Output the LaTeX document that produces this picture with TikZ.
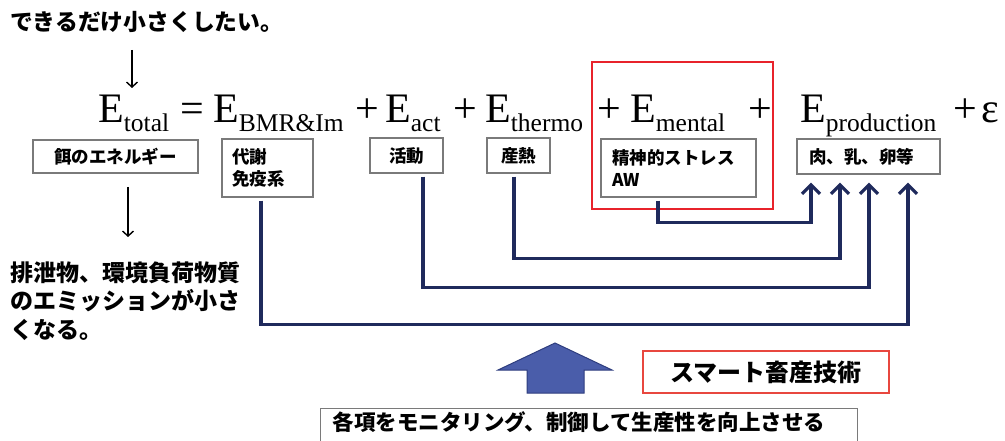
\documentclass[tikz,border=0pt]{standalone}
\usepackage{fontspec}
\setmainfont{Liberation Serif}
\newfontfamily\jp{Noto Sans CJK JP}
\usetikzlibrary{arrows.meta}
\definecolor{navy}{HTML}{1F2A5C}
\definecolor{boxgray}{HTML}{7A7A7A}
\definecolor{redline}{HTML}{E8232B}
\definecolor{redsmart}{HTML}{E8473F}
\definecolor{arrowblue}{HTML}{4A5DAA}
\definecolor{arrowedge}{HTML}{2E3D7E}
\newcommand\esub[1]{\raisebox{-9pt}{\fontsize{25.5}{25.5}\selectfont #1}}
\begin{document}
\begin{tikzpicture}[x=1pt,y=-1pt,
  term/.style={inner sep=0pt, anchor=base west, font=\fontsize{42}{42}\selectfont},
  lab/.style={draw=boxgray, line width=1.3pt, inner sep=0pt, font=\jp\bfseries\fontsize{17.5}{22}\selectfont},
  conn/.style={draw=navy, line width=3.3pt, -{Straight Barb[length=9pt,width=18pt,line width=3.2pt]}},
  thinarrow/.style={line width=1.4pt, -{Straight Barb[length=5pt,width=11pt]}},
  jptext/.style={inner sep=0pt, font=\jp\bfseries\fontsize{22}{28.5}\selectfont},
]
\useasboundingbox (0,0) rectangle (1005,441);

% top remark
\node[jptext, anchor=west, font=\jp\bfseries\fontsize{22.8}{28.5}\selectfont] (top) at (10,22) {できるだけ小さくしたい。};
\coordinate (a1s) at (132,50);
\coordinate (a1e) at (132,88);
\draw[thinarrow] (a1s) -- (a1e);

% equation
\node[term] (etot) at (98,123) {E\esub{total}};
\node[term] (eq) at (180,123) {=};
\node[term] (ebmr) at (213,123) {E\esub{BMR\&Im}};
\node[term] (p1) at (355,123) {+};
\node[term] (eact) at (385,123) {E\esub{act}};
\node[term] (p2) at (453,123) {+};
\node[term] (eth) at (485,123) {E\esub{thermo}};
\node[term] (p3) at (597,123) {+};
\node[term] (emen) at (630,123) {E\esub{mental}};
\node[term] (p4) at (748,123) {+};
\node[term] (epro) at (800,123) {E\esub{production}};
\node[term] (p5) at (953,123) {+};
\node[term] (eps) at (981,123) {ε};

% red frame round mental term
\node[draw=redline, line width=2pt, minimum width=181pt, minimum height=147pt, inner sep=0pt] (redbox) at (682.5,135.5) {};

% label boxes
\node[lab, minimum width=165pt, minimum height=33pt] (bfeed) at (115.5,156.5) {餌のエネルギー};
\node[lab, text width=71pt, inner xsep=10pt, align=left, minimum height=58pt] (bbmr) at (267.5,168) {代謝\\免疫系};
\node[lab, minimum width=73pt, minimum height=35pt] (bact) at (406.5,155.5) {活動};
\node[lab, minimum width=63pt, minimum height=35pt] (bth) at (518.5,155.5) {産熱};
\node[lab, text width=133pt, inner xsep=11pt, align=left, minimum height=58pt] (bmen) at (678.5,168) {精神的ストレス\\AW};
\node[lab, text width=119pt, inner xsep=12pt, align=left, minimum height=35pt] (bpro) at (868.5,156.5) {肉、乳、卵等};

% feed -> emission
\coordinate (a2s) at (128,187);
\coordinate (a2e) at (128,237);
\draw[thinarrow] (a2s) -- (a2e);
\node[jptext, anchor=west, align=left, font=\jp\bfseries\fontsize{23}{28.5}\selectfont] (emis) at (10,301) {排泄物、環境負荷物質\\のエミッションが小さ\\くなる。};

% connectors into production
\coordinate (tm) at ([xshift=-57.5pt,yshift=-8pt]bpro.south);
\coordinate (tt) at ([xshift=-28.5pt,yshift=-8pt]bpro.south);
\coordinate (ta) at ([xshift=0.5pt,yshift=-8pt]bpro.south);
\coordinate (tb) at ([xshift=39.5pt,yshift=-8pt]bpro.south);
\draw[conn] ([xshift=-20.5pt,yshift=-3pt]bmen.south) -- ++(0,22) -| (tm);
\draw[conn] ([xshift=-4.5pt,yshift=-3pt]bth.south) -- ++(0,82) -| (tt);
\draw[conn] ([xshift=16.5pt,yshift=-3pt]bact.south) -- ++(0,111) -| (ta);
\draw[conn] ([xshift=-6.5pt,yshift=-3pt]bbmr.south) -- ++(0,124) -| (tb);

% big blue arrow
\draw[fill=arrowblue, draw=arrowedge, line width=1pt, line join=miter]
  (527,393) -- (527,370) -- (498,370) -- (555,343) -- (612,370) -- (584,370) -- (584,393) -- cycle;

% smart livestock technology
\node[draw=redsmart, line width=1.5pt, minimum width=246pt, minimum height=42pt, inner sep=0pt,
      font=\jp\bfseries\fontsize{24}{24}\selectfont] (smart) at (766,372) {スマート畜産技術};

% bottom box (cut by the lower edge)
\node[draw=boxgray, line width=1.3pt, anchor=north west, text width=513pt, inner xsep=12pt, inner ysep=4pt,
      align=left, text height=18pt, text depth=25pt, font=\jp\bfseries\fontsize{21.5}{21.5}\selectfont] (bottom) at (320,408)
  {各項をモニタリング、制御して生産性を向上させる};
\end{tikzpicture}
\end{document}
